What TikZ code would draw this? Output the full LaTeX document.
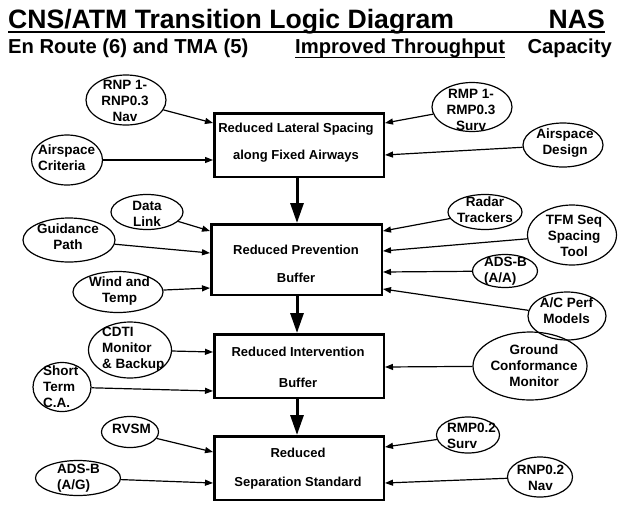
\documentclass[tikz,border=0pt]{standalone}
\usepackage{fontspec}
\setmainfont{Liberation Sans}
\usetikzlibrary{shapes.geometric,arrows.meta}
\begin{document}
\begin{tikzpicture}[x=1pt,y=-1pt,
  ell/.style={draw,ellipse,line width=1.2pt,inner sep=0pt},
  etext/.style={inner sep=0pt,font=\bfseries\fontsize{13.5}{16}\selectfont},
  box/.style={draw,rectangle,line width=2.5pt,inner sep=0pt},
  btext/.style={inner sep=0pt,align=center,font=\bfseries\fontsize{13}{16}\selectfont},
  arr/.style={line width=1.2pt,-{Triangle[length=8pt,width=6pt]}},
  bigarr/.style={line width=3pt,-{Triangle[length=20pt,width=13pt]}},
]
\useasboundingbox (0,0) rectangle (618,504);

% titles
\node[inner sep=0pt,anchor=base west,font=\bfseries\fontsize{26.6}{30}\selectfont] (title) at (8,28) {CNS/ATM Transition Logic Diagram};
\node[inner sep=0pt,anchor=base east,font=\bfseries\fontsize{26.6}{30}\selectfont] (nas) at (605,28) {NAS};
\draw[line width=2pt] (title.base west) ++(0,4) coordinate (ul1) -- (ul1 -| nas.east);
\node[inner sep=0pt,anchor=base west,font=\bfseries\fontsize{20.2}{22}\selectfont] (sub1) at (8,53) {En Route (6) and TMA (5)};
\node[inner sep=0pt,anchor=base west,font=\bfseries\fontsize{20.2}{22}\selectfont] (sub2) at (295,53) {Improved Throughput};
\node[inner sep=0pt,anchor=base east,font=\bfseries\fontsize{20.2}{22}\selectfont] (sub3) at (612,53) {Capacity};
\draw[line width=1.5pt] (sub2.base west) ++(0,4.5) coordinate (ul2) -- (ul2 -| sub2.east);

% boxes
\node[box,minimum width=169.5,minimum height=63.5] (b1) at (299,145) {};
\node[btext] (b1t) at (296,143) {Reduced Lateral Spacing\\[11pt]along Fixed Airways};
\node[box,minimum width=170.5,minimum height=70.5] (b2) at (296.5,259.5) {};
\node[btext] (b2t) at (296,264.3) {Reduced Prevention\\[12pt]Buffer};
\node[box,minimum width=169.5,minimum height=63.5] (b3) at (299,366) {};
\node[btext] (b3t) at (298,367.8) {Reduced Intervention\\[15pt]Buffer};
\node[box,minimum width=169.5,minimum height=63.5] (b4) at (299,468) {};
\node[btext] (b4t) at (298,469) {Reduced\\[13pt]Separation Standard};

\draw[bigarr] (b1.south -| 297,0) -- (b2.north -| 297,0);
\draw[bigarr] (b2.south -| 297,0) -- (b3.north -| 297,0);
\draw[bigarr] (b3.south -| 297,0) -- (b4.north -| 297,0);

% ellipses
\node[ell,minimum width=80,minimum height=50] (rnp) at (126,100) {};
\node[etext,align=center] (rnpt) at (125,101) {RNP 1-\\RNP0.3\\Nav};
\node[ell,minimum width=71,minimum height=50] (asc) at (67,160) {};
\node[etext,align=left,anchor=west] (asct) at (38,158) {Airspace\\Criteria};
\node[ell,minimum width=80,minimum height=49] (rmp) at (472,107) {};
\node[etext,align=center] (rmpt) at (471,110) {RMP 1-\\RMP0.3\\Surv};
\node[ell,minimum width=80,minimum height=44] (asd) at (563,145) {};
\node[etext,align=center] (asdt) at (565,143.5) {Airspace\\Design};

\node[ell,minimum width=72,minimum height=35] (dl) at (147,212) {};
\node[etext,align=center] (dlt) at (147,214) {Data\\Link};
\node[ell,minimum width=92,minimum height=44] (gp) at (69,240) {};
\node[etext,align=center] (gpt) at (68,237) {Guidance\\Path};
\node[ell,minimum width=90,minimum height=41] (wt) at (118,292) {};
\node[etext,align=center] (wtt) at (119.5,291) {Wind and\\Temp};
\node[ell,minimum width=74,minimum height=35] (rt) at (485,212) {};
\node[etext,align=center] (rtt) at (485,210) {Radar\\Trackers};
\node[ell,minimum width=89,minimum height=60] (tfm) at (572,235) {};
\node[etext,align=center] (tfmt) at (574,235.5) {TFM Seq\\Spacing\\Tool};
\node[ell,minimum width=65,minimum height=33] (adsa) at (505,271) {};
\node[etext,align=left,anchor=west] (adsat) at (484,271) {ADS-B\\(A/A)};
\node[ell,minimum width=78,minimum height=48] (acp) at (567,316) {};
\node[etext,align=center] (acpt) at (566.5,310.5) {A/C Perf\\Models};

\node[ell,minimum width=83,minimum height=56] (cdti) at (130,350) {};
\node[etext,align=left,anchor=west] (cdtit) at (102,349.5) {CDTI\\Monitor\\\& Backup};
\node[ell,minimum width=58,minimum height=49] (st) at (62,387) {};
\node[etext,align=left,anchor=west] (stt) at (43,386.5) {Short\\Term\\C.A.};
\node[ell,minimum width=114,minimum height=68] (gcm) at (530,366) {};
\node[etext,align=center] (gcmt) at (534,366) {Ground\\Conformance\\Monitor};

\node[ell,minimum width=57,minimum height=31] (rvsm) at (130,432) {};
\node[etext,align=center] (rvsmt) at (131.5,428.5) {RVSM};
\node[ell,minimum width=85,minimum height=35] (adsg) at (78,478) {};
\node[etext,align=left,anchor=west] (adsgt) at (57,478.5) {ADS-B\\(A/G)};
\node[ell,minimum width=63,minimum height=36] (rmp2) at (468,435) {};
\node[etext,align=left,anchor=west] (rmp2t) at (447,435.5) {RMP0.2\\Surv};
\node[ell,minimum width=65,minimum height=40] (rnp2) at (540,477) {};
\node[etext,align=center] (rnp2t) at (540.5,478) {RNP0.2\\Nav};

% connectors
\draw[arr] (rnp) -- (b1.west |- 0,123);
\draw[arr] (asc) -- (b1.west |- 0,160);
\draw[arr] (rmp) -- (b1.east |- 0,123);
\draw[arr] (asd) -- (b1.east |- 0,155);

\draw[arr] (dl) -- (b2.west |- 0,231);
\draw[arr] (gp) -- (b2.west |- 0,253);
\draw[arr] (wt) -- (b2.west |- 0,288);
\draw[arr] (rt) -- (b2.east |- 0,231);
\draw[arr] (tfm) -- (b2.east |- 0,251);
\draw[arr] (adsa) -- (b2.east |- 0,272);
\draw[arr] (acp) -- (b2.east |- 0,289);

\draw[arr] (cdti) -- (b3.west |- 0,352);
\draw[arr] (st) -- (b3.west |- 0,391);
\draw[arr] (gcm) -- (b3.east |- 0,367);

\draw[arr] (rvsm) -- (b4.west |- 0,452);
\draw[arr] (adsg) -- (b4.west |- 0,483);
\draw[arr] (rmp2) -- (b4.east |- 0,447);
\draw[arr] (rnp2) -- (b4.east |- 0,483);
\end{tikzpicture}
\end{document}
